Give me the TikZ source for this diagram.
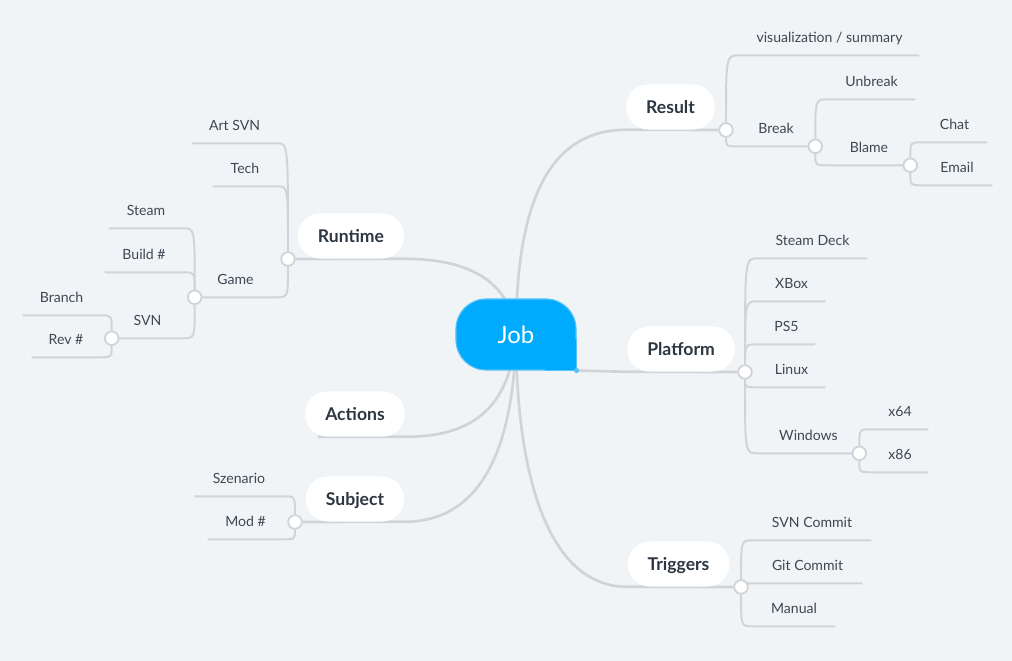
\documentclass[tikz,border=0pt]{standalone}
\usepackage{fontspec}
\setmainfont{Lato}
\usepackage{tikz}

\definecolor{paper}{RGB}{240,244,247}
\definecolor{wire}{RGB}{208,212,216}
\definecolor{ink}{RGB}{62,72,82}
\definecolor{inkbold}{RGB}{45,55,65}
\definecolor{jobblue}{RGB}{0,170,252}
\definecolor{jobedge}{RGB}{90,196,250}

\pgfdeclarelayer{canvas}
\pgfdeclarelayer{wires}
\pgfsetlayers{canvas,wires,main}

\begin{document}
\begin{tikzpicture}[x=0.025cm, y=0.025cm, line cap=round, line join=round,
  trunk/.style={draw=wire, line width=1.9pt},
  twig/.style={draw=wire, line width=1.4pt},
  knob/.style={circle, draw=wire, fill=white, line width=1.3pt, minimum size=0.34cm, inner sep=0pt},
  pill/.style={rectangle, rounded corners=0.55cm, fill=white, minimum height=1.125cm, inner xsep=0.5cm,
    text height=11pt, text depth=2pt, text=inkbold, font=\fontsize{12.5}{15}\selectfont\bfseries},
  leaf/.style={minimum width=#1*0.025cm, minimum height=0.95cm, inner sep=0pt,
    text height=10.5pt, text depth=0.8pt, text=ink, font=\fontsize{10}{12}\selectfont},
  jobbox/.style={rectangle, rounded corners=0.75cm, fill=jobblue, draw=jobedge, line width=0.8pt,
    minimum width=3cm, minimum height=1.775cm, text=white, font=\fontsize{17}{20}\selectfont}]

  \useasboundingbox (0,0) rectangle (1012,-661);
  \begin{pgfonlayer}{canvas}
    \fill[paper] (0,0) rectangle (1012,-661);
  \end{pgfonlayer}

  % centre
  \node[jobbox] (job) at (516,-334.5) {Job};
  \fill[jobblue] (job.south east) rectangle ++(-0.8cm,0.8cm);
  \draw[jobedge, line width=0.8pt] ([xshift=-0.8cm]job.south east) -- (job.south east) -- ([yshift=0.8cm]job.south east);
  \fill[jobedge] (job.south east) circle (0.065cm);

  % main branches
  \node[pill] (result)   at (670.5,-107)  {Result};
  \node[pill] (platform) at (681,-349)    {Platform};
  \node[pill] (triggers) at (678.5,-564)  {Triggers};
  \node[pill] (runtime)  at (351,-236)    {Runtime};
  \node[pill] (actions)  at (355,-414)    {Actions};
  \node[pill] (subject)  at (355,-499)    {Subject};

  \node[knob] (rdot)  at (726,-130) {};
  \node[knob] (pdot)  at (745,-372) {};
  \node[knob] (tdot)  at (741,-587) {};
  \node[knob] (rtdot) at (288,-259) {};
  \node[knob] (sjdot) at (295,-522) {};

  % Result
  \node[leaf=179] (viz)     at (829.5,-36) {visualization / summary};
  \node[leaf=78]  (brk)     at (776,-127)  {Break};
  \node[leaf=87]  (unbreak) at (871.5,-80) {Unbreak};
  \node[leaf=82]  (blame)   at (869,-146)  {Blame};
  \node[leaf=65]  (chat)    at (954.5,-123) {Chat};
  \node[leaf=70]  (email)   at (957,-166)  {Email};
  \node[knob] (bdot)  at (brk.south east) {};
  \node[knob] (bldot) at (blame.south east) {};

  % Platform
  \node[leaf=109] (deck)    at (812.5,-239) {Steam Deck};
  \node[leaf=67]  (xbox)    at (791.5,-282) {XBox};
  \node[leaf=57]  (ps5)     at (786.5,-325) {PS5};
  \node[leaf=67]  (linux)   at (791.5,-368) {Linux};
  \node[leaf=101] (windows) at (808.5,-434) {Windows};
  \node[leaf=56]  (x64)     at (900,-410)   {x64};
  \node[leaf=56]  (x86)     at (900,-453)   {x86};
  \node[knob] (wdot) at (windows.south east) {};

  % Triggers
  \node[leaf=118] (svncommit) at (812,-521)   {SVN Commit};
  \node[leaf=109] (gitcommit) at (807.5,-564) {Git Commit};
  \node[leaf=82]  (manual)    at (794,-607)   {Manual};

  % Runtime
  \node[leaf=85] (artsvn)  at (234.5,-124) {Art SVN};
  \node[leaf=64] (tech)    at (245,-167)   {Tech};
  \node[leaf=81] (game)    at (235.5,-278) {Game};
  \node[leaf=74] (steam)   at (146,-209)   {Steam};
  \node[leaf=78] (buildno) at (144,-253)   {Build \#};
  \node[leaf=71] (svn)     at (147.5,-319) {SVN};
  \node[leaf=77] (branch)  at (61.5,-296)  {Branch};
  \node[leaf=68] (revno)   at (66,-338)    {Rev \#};
  \node[knob] (gdot) at (game.south west) {};
  \node[knob] (sdot) at (svn.south west) {};

  % Subject
  \node[leaf=88] (szenario) at (239,-477)   {Szenario};
  \node[leaf=75] (modno)    at (245.5,-520) {Mod \#};

  \begin{pgfonlayer}{wires}
    \draw[trunk] (job.center) .. controls (516,-200) and (550,-130) .. (result.south west) -- (rdot);
    \draw[trunk] (job.south east) -- (platform.south west) -- (pdot);
    \draw[trunk] (job.center) .. controls (516,-480) and (550,-587) .. (triggers.south west) -- (tdot);
    \draw[trunk] (job.center) .. controls (510,-275) and (460,-259) .. (runtime.south east) -- (rtdot);
    \draw[trunk] (job.center) .. controls (510,-410) and (470,-437) .. (actions.south east) -- ([xshift=0.33cm]actions.south west);
    \draw[trunk] (job.center) .. controls (514,-450) and (480,-522) .. (subject.south east) -- (sjdot);

    % right hand side
    \foreach \leaf in {viz,brk}{
      \draw[twig] (rdot) .. controls (rdot |- \leaf.south west) .. (\leaf.south west) -- (\leaf.south east);
    }
    \foreach \leaf in {unbreak,blame}{
      \draw[twig] (bdot) .. controls (bdot |- \leaf.south west) .. (\leaf.south west) -- (\leaf.south east);
    }
    \foreach \leaf in {chat,email}{
      \draw[twig] (bldot) .. controls (bldot |- \leaf.south west) .. (\leaf.south west) -- (\leaf.south east);
    }
    \foreach \leaf in {deck,xbox,ps5,linux,windows}{
      \draw[twig] (pdot) .. controls (pdot |- \leaf.south west) .. (\leaf.south west) -- (\leaf.south east);
    }
    \foreach \leaf in {x64,x86}{
      \draw[twig] (wdot) .. controls (wdot |- \leaf.south west) .. (\leaf.south west) -- (\leaf.south east);
    }
    \foreach \leaf in {svncommit,gitcommit,manual}{
      \draw[twig] (tdot) .. controls (tdot |- \leaf.south west) .. (\leaf.south west) -- (\leaf.south east);
    }

    % left hand side
    \foreach \leaf in {artsvn,tech,game}{
      \draw[twig] (rtdot) .. controls (rtdot |- \leaf.south east) .. (\leaf.south east) -- (\leaf.south west);
    }
    \foreach \leaf in {steam,buildno,svn}{
      \draw[twig] (gdot) .. controls (gdot |- \leaf.south east) .. (\leaf.south east) -- (\leaf.south west);
    }
    \foreach \leaf in {branch,revno}{
      \draw[twig] (sdot) .. controls (sdot |- \leaf.south east) .. (\leaf.south east) -- (\leaf.south west);
    }
    \foreach \leaf in {szenario,modno}{
      \draw[twig] (sjdot) .. controls (sjdot |- \leaf.south east) .. (\leaf.south east) -- (\leaf.south west);
    }
  \end{pgfonlayer}

\end{tikzpicture}
\end{document}
